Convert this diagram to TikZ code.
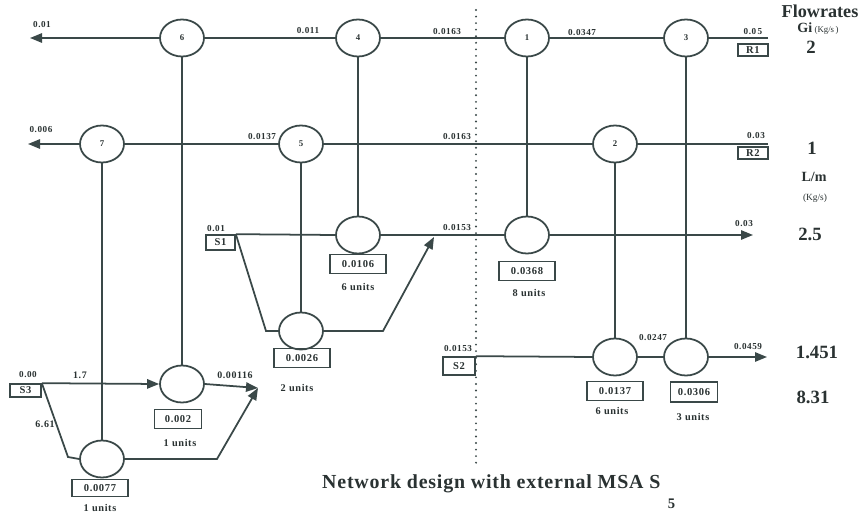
\documentclass[tikz,border=0pt]{standalone}
\usepackage{fontspec}
\setmainfont{Liberation Serif}
\newfontfamily\labfont[LetterSpace=6]{Liberation Serif}
\newfontfamily\capfont[LetterSpace=4]{Liberation Serif}
\usetikzlibrary{shapes.geometric,arrows.meta}

\definecolor{ink}{RGB}{58,72,72}
\definecolor{txt}{RGB}{42,50,50}

\begin{document}
\begin{tikzpicture}[x=0.03cm,y=-0.03cm,
  pipe/.style={draw=ink,line width=1.5pt},
  flow/.style={pipe,-{Triangle[length=0.36cm,width=0.28cm]}},
  unit/.style={ellipse,draw=ink,line width=1.5pt,minimum width=1.32cm,
    minimum height=1.11cm,inner sep=0pt,text=txt,
    font=\labfont\bfseries\fontsize{7.5}{8}\selectfont},
  valbox/.style={rectangle,draw=ink,line width=1.4pt,minimum width=1.68cm,
    minimum height=0.57cm,inner sep=0pt,text=txt,
    font=\labfont\bfseries\fontsize{9}{10}\selectfont},
  srcbox/.style={rectangle,draw=ink,line width=1.4pt,minimum width=0.9cm,
    minimum height=0.42cm,inner sep=0pt,text=txt,
    font=\labfont\bfseries\fontsize{9}{10}\selectfont},
  lbl/.style={inner sep=0pt,text=txt,font=\labfont\bfseries\fontsize{7.8}{8}\selectfont},
  units/.style={inner sep=0pt,text=txt,font=\labfont\bfseries\fontsize{8.8}{9}\selectfont},
  big/.style={inner sep=0pt,text=txt,font=\bfseries\fontsize{16}{18}\selectfont},
]
\useasboundingbox[fill=white] (0,0) rectangle (863,514);

% ---- rich streams (top rows) ----
\node[unit] (n6) at (182,38) {6};
\node[unit] (n4) at (358,38) {4};
\node[unit] (n1) at (527,38) {1};
\node[unit] (n3) at (686,38) {3};
\node[unit] (n7) at (102,144) {7};
\node[unit] (n5) at (301,144) {5};
\node[unit] (n2) at (615,144) {2};

% ---- exchangers on the lean streams ----
\node[unit] (e4) at (358,235) {};
\node[unit] (e1) at (527,235) {};
\node[unit] (e5) at (301,331) {};
\node[unit] (e2) at (615,357) {};
\node[unit] (e3) at (686,357) {};
\node[unit] (e6) at (182,384) {};
\node[unit] (e7) at (102,459) {};

% ---- stream boxes ----
\node[srcbox,minimum height=0.36cm] (r1) at (753,50) {R1};
\node[srcbox,minimum height=0.36cm] (r2) at (753,153) {R2};
\node[srcbox,minimum width=0.87cm,minimum height=0.45cm] (s1) at (220.5,242.5) {S1};
\node[srcbox,minimum width=0.96cm,minimum height=0.54cm] (s2) at (459,366) {S2};
\node[srcbox,minimum width=0.93cm,minimum height=0.39cm] (s3) at (25.5,390.5) {S3};

% free ends and bends of the streams
\coordinate (o1) at (30,38);
\coordinate (o2) at (28,144);
\coordinate (r1in) at (768,38);
\coordinate (r2in) at (768,144);
\coordinate (o3) at (753,235);
\coordinate (o4) at (767,357);
\coordinate (k1) at (266,331);
\coordinate (k2) at (383,331);
\coordinate (m1) at (434,237);
\coordinate (k3) at (68,457);
\coordinate (k4) at (217,459);
\coordinate (m3) at (258,388);

% ---- rich stream R1 ----
\draw[pipe] (r1in) -- (n3.east);
\draw[pipe] (n3.west) -- (n1.east);
\draw[pipe] (n1.west) -- (n4.east);
\draw[pipe] (n4.west) -- (n6.east);
\draw[flow] (n6.west) -- (o1);
% ---- rich stream R2 ----
\draw[pipe] (r2in) -- (n2.east);
\draw[pipe] (n2.west) -- (n5.east);
\draw[pipe] (n5.west) -- (n7.east);
\draw[flow] (n7.west) -- (o2);

% ---- vertical matches ----
\draw[pipe] (n6.south) -- (e6.north);
\draw[pipe] (n4.south) -- (e4.north);
\draw[pipe] (n1.south) -- (e1.north);
\draw[pipe] (n3.south) -- (e3.north);
\draw[pipe] (n7.south) -- (e7.north);
\draw[pipe] (n5.south) -- (e5.north);
\draw[pipe] (n2.south) -- (e2.north);

% ---- lean stream S1 ----
\draw[pipe] (s1.north east) -- (e4.west);
\draw[pipe] (e4.east) -- (e1.west);
\draw[flow] (e1.east) -- (o3);
\draw[pipe] (s1.north east) -- (k1) -- (e5.west);
\draw[flow] (e5.east) -- (k2) -- (m1);

% ---- lean stream S2 ----
\draw[pipe] (s2.north east) -- (e2.west);
\draw[pipe] (e2.east) -- (e3.west);
\draw[flow] (e3.east) -- (o4);

% ---- lean stream S3 ----
\draw[flow] (s3.north east) -- (e6.west);
\draw[flow] (e6.east) -- (m3);
\draw[pipe] (s3.north east) -- (k3) -- (e7.west);
\draw[flow] (e7.east) -- (k4) -- (m3);

% ---- pinch division ----
\draw[ink,line width=1.8pt,line cap=round,dash pattern=on 0pt off 5.6pt] (476,10) -- (476,467);

% ---- flow labels ----
\node[lbl] at (42,25) {0.01};
\node[lbl] at (308,31) {0.011};
\node[lbl] at (447,32) {0.0163};
\node[lbl] at (582,33) {0.0347};
\node[lbl] at (753,32) {0.0\,5};
\node[lbl] at (41,130) {0.006};
\node[lbl] at (262,137) {0.0137};
\node[lbl] at (457,137) {0.0163};
\node[lbl] at (756,136) {0.03};
\node[lbl] at (216,229) {0.01};
\node[lbl] at (457,228) {0.0153};
\node[lbl] at (744,224) {0.03};
\node[lbl] at (458,349) {0.0153};
\node[lbl] at (653,338) {0.0247};
\node[lbl] at (748,347) {0.0459};
\node[lbl] at (28,375) {0.00};
\node[lbl,font=\labfont\bfseries\fontsize{8.5}{9}\selectfont] at (80,375) {1.7};
\node[lbl,font=\labfont\bfseries\fontsize{8.5}{9}\selectfont] at (235,375) {0.00116};
\node[lbl,font=\labfont\bfseries\fontsize{8.5}{9}\selectfont] at (45,424) {6.61};

% ---- exchanger areas and shells ----
\node[valbox] (a4) at (358,264) {0.0106};
\node[units] at (358,287) {6 units};
\node[valbox] (a5) at (302,358) {0.0026};
\node[units] at (297,388) {2 units};
\node[valbox] (a1) at (527,271) {0.0368};
\node[units] at (529,293) {8 units};
\node[valbox] (a2) at (615,391) {0.0137};
\node[units] at (612,411) {6 units};
\node[valbox,minimum width=1.41cm,minimum height=0.6cm] (a3) at (694,392) {0.0306};
\node[units] at (693,417) {3 units};
\node[valbox,minimum width=1.41cm] (a6) at (178,419) {0.002};
\node[units] at (180,443) {1 units};
\node[valbox,minimum height=0.5cm] (a7) at (100,488) {0.0077};
\node[units] at (100,508) {1 units};

% ---- flowrate column ----
\node[inner sep=0pt,text=txt,font=\bfseries\fontsize{15.5}{17}\selectfont] at (820,11) {Flowrates};
\node[inner sep=0pt,text=txt] at (818,29) {\bfseries\fontsize{12}{13}\selectfont Gi\,{\mdseries\fontsize{7.5}{8}\selectfont(Kg/s\,)}};
\node[big] at (811,47) {2};
\node[big] at (812,148) {1};
\node[inner sep=0pt,text=txt,font=\bfseries\fontsize{12}{13}\selectfont] at (814,177) {L/m};
\node[inner sep=0pt,text=txt,font=\fontsize{8}{9}\selectfont] at (815,198) {(Kg/s)};
\node[big] at (810,234) {2.5};
\node[big] at (817,352) {1.451};
\node[big] at (813,397) {8.31};

% ---- caption ----
\node[anchor=base west,inner sep=0pt,text=txt,font=\capfont\bfseries\fontsize{17}{20}\selectfont] (cap) at (322,488)
  {Network design with external MSA S\hspace{0.22cm}\raisebox{-0.6cm}{\fontsize{12.5}{14}\selectfont 5}};
\end{tikzpicture}
\end{document}
